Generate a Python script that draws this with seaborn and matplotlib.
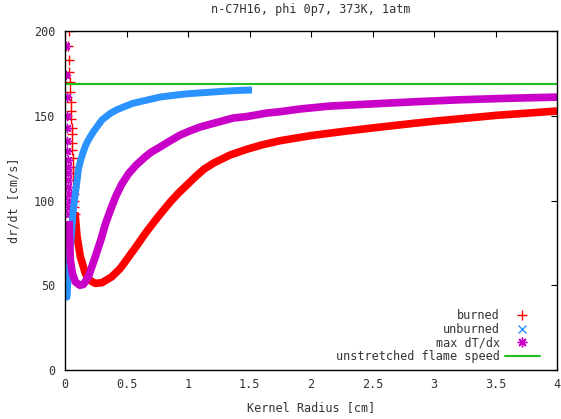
import numpy as np
import pandas as pd
import matplotlib
matplotlib.use("Agg")
import matplotlib.pyplot as plt
from matplotlib.lines import Line2D
import seaborn as sns

# --- values ---
# burned: sparse "+" column near r=0, then the dense band
burned_sparse_r = [0.030, 0.028, 0.033, 0.035, 0.038, 0.040, 0.045, 0.048, 0.050, 0.053,
                   0.055, 0.058, 0.060, 0.062, 0.064, 0.066, 0.068, 0.070, 0.072, 0.074,
                   0.076, 0.078]
burned_sparse_v = [200, 191, 183, 176, 170, 164, 158, 153, 148, 143,
                   139, 134, 130, 125, 120, 116, 112, 108, 104, 100,
                   96, 92]
burned_r = [0.080, 0.084, 0.098, 0.125, 0.165, 0.20, 0.246, 0.30, 0.38, 0.45, 0.518, 0.58,
            0.653, 0.72, 0.79, 0.86, 0.924, 1.06, 1.13, 1.206, 1.34, 1.477, 1.6, 1.75, 2.0,
            2.29, 2.5, 2.83, 3.0, 3.37, 3.5, 4.0]
burned_v = [93, 90.4, 78.6, 66.8, 57, 53, 51.1, 51.5, 55, 60, 66.8, 73,
            80.6, 87, 93.4, 99.5, 104.5, 114, 118.5, 122, 126.8, 130.2, 132.8, 135.3, 138.3,
            141, 142.8, 145.5, 146.8, 149.3, 150.2, 152.8]

# unburned: a few scattered "x" points at the bottom left, then the band
unburned_sparse_r = [0.002, 0.004, 0.006, 0.003, 0.008, 0.001]
unburned_sparse_v = [58, 55, 52, 61, 48, 50]
unburned_r = [0.012, 0.016, 0.020, 0.030, 0.040, 0.050, 0.068, 0.084, 0.11, 0.13, 0.15,
              0.17, 0.20, 0.23, 0.26, 0.30, 0.37, 0.42, 0.47, 0.55, 0.65, 0.77, 0.90, 1.0,
              1.1, 1.2, 1.3, 1.4, 1.52]
unburned_v = [44, 43, 48, 58, 69, 78, 95, 104, 119, 124.5, 129,
              133, 137, 140.5, 143.5, 147.5, 151.5, 153.5, 155, 157.3, 159, 161, 162.2, 163,
              163.5, 164, 164.5, 164.9, 165.2]

# max dT/dx: sparse "*" column near r=0, then the band
maxgrad_sparse_r = [0.005, 0.012, 0.017, 0.018, 0.020, 0.015, 0.020, 0.022, 0.025, 0.026,
                    0.027, 0.028, 0.029, 0.030, 0.031, 0.032]
maxgrad_sparse_v = [191, 174, 161, 150, 143, 135, 129, 124, 120, 116,
                    112, 108, 104, 100, 96, 92]
maxgrad_r = [0.033, 0.036, 0.043, 0.060, 0.084, 0.12, 0.15, 0.19, 0.246, 0.29, 0.33, 0.37,
             0.41, 0.46, 0.518, 0.58, 0.653, 0.70, 0.76, 0.85, 0.935, 1.02, 1.1, 1.206,
             1.37, 1.477, 1.64, 1.75, 1.91, 2.15, 2.5, 2.83, 3.2, 3.6, 4.0]
maxgrad_v = [88, 80, 65, 57, 52, 50, 50.5, 55, 66.8, 76.5, 86.5, 94.5,
             102, 109.5, 116, 121, 125.8, 128.5, 131, 135, 138.6, 141.2, 143.4, 145.5,
             148.7, 149.5, 151.6, 152.4, 154, 155.7, 157, 158.2, 159.4, 160.3, 161]

flame_speed = 169

c_burned = "#ff0000"
c_unburned = "#2a93ff"
c_maxgrad = "#c800c8"
c_flame = "#1fbf1f"
star = (8, 2, 0)

sns.set_style("white")
plt.rcParams["font.family"] = ["DejaVu Sans Mono"]
plt.rcParams["font.size"] = 8.5

fig = plt.figure(figsize=(5.61, 4.19), dpi=100)
ax = fig.add_axes([0.1159, 0.1169, 0.8770, 0.8091])

# burned
sns.lineplot(x=burned_r, y=burned_v, sort=False, estimator=None, color=c_burned,
             lw=5.5, solid_capstyle="butt", solid_joinstyle="round", ax=ax)
sns.scatterplot(x=burned_sparse_r, y=burned_sparse_v, marker="+", color=c_burned,
                s=45, linewidth=1, ax=ax)
# unburned
sns.lineplot(x=unburned_r, y=unburned_v, sort=False, estimator=None, color=c_unburned,
             lw=5, solid_capstyle="butt", solid_joinstyle="round", ax=ax)
sns.scatterplot(x=unburned_sparse_r, y=unburned_sparse_v, marker="x", color=c_unburned,
                s=30, linewidth=1, ax=ax)
# max dT/dx
sns.lineplot(x=maxgrad_r, y=maxgrad_v, sort=False, estimator=None, color=c_maxgrad,
             lw=5.5, solid_capstyle="butt", solid_joinstyle="round", ax=ax)
sns.scatterplot(x=maxgrad_sparse_r, y=maxgrad_sparse_v, marker=star, color=c_maxgrad,
                s=35, linewidth=1, ax=ax)
# unstretched flame speed
ax.axhline(flame_speed, color=c_flame, lw=1.5)

ax.set_xlim(0, 4)
ax.set_ylim(0, 200)
ax.set_xticks(np.arange(0, 4.01, 0.5))
ax.set_xticklabels(["0", "0.5", "1", "1.5", "2", "2.5", "3", "3.5", "4"])
ax.set_yticks([0, 50, 100, 150, 200])
ax.tick_params(direction="in", top=True, right=True, length=4, width=0.8,
               colors="black", labelcolor="#333333", pad=6)
ax.tick_params(axis="y", pad=7)
for sp in ax.spines.values():
    sp.set_color("black")
    sp.set_linewidth(1)

ax.set_xlabel("Kernel Radius [cm]", labelpad=7, color="#333333")
ax.set_ylabel("dr/dt [cm/s]", labelpad=10, color="#333333")
ax.set_title("n-C7H16, phi 0p7, 373K, 1atm", pad=13, color="#333333", fontsize=8.5)

handles = [
    Line2D([], [], ls="none", marker="+", color=c_burned, markersize=7, mew=1),
    Line2D([], [], ls="none", marker="x", color=c_unburned, markersize=6, mew=1),
    Line2D([], [], ls="none", marker=star, color=c_maxgrad, markersize=7, mew=1),
    Line2D([], [], color=c_flame, lw=1.5),
]
labels = ["burned", "unburned", "max dT/dx", "unstretched flame speed"]
leg = ax.legend(handles, labels, loc="lower right", frameon=False, markerfirst=False,
                handlelength=3.0, handletextpad=0.4, labelspacing=0.05,
                borderpad=0, borderaxespad=0,
                bbox_to_anchor=((540 - 65) / 492, 7 / 339), fontsize=8.5)
for t in leg.get_texts():
    t.set_color("#333333")

fig.savefig("out.png", dpi=100)
